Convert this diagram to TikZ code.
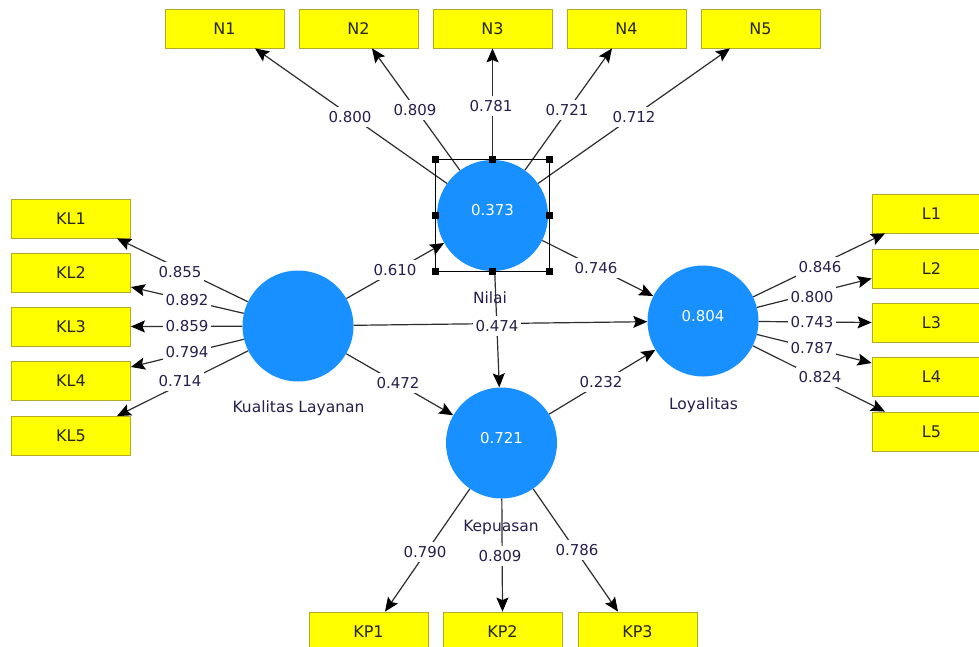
\documentclass[tikz,border=0pt]{standalone}
\usepackage{fontspec}
\newfontfamily\dv{DejaVu Sans}
\usetikzlibrary{arrows.meta}
\definecolor{boxy}{RGB}{255,255,0}
\definecolor{boxline}{RGB}{180,170,40}
\definecolor{lv}{RGB}{24,144,255}
\definecolor{lbltxt}{RGB}{40,30,75}
\definecolor{edge}{RGB}{45,45,45}
\begin{document}
\begin{tikzpicture}[x=1pt,y=-1pt,
  ind/.style={rectangle, fill=boxy, draw=boxline, line width=0.8pt, minimum width=119pt, minimum height=39pt, inner sep=0pt, font=\dv\fontsize{16}{18}\selectfont, text=black!85},
  lat/.style={circle, fill=lv, minimum size=111pt, inner sep=0pt, text=white, font=\dv\fontsize{15}{17}\selectfont, text height=10.5pt, text depth=10pt},
  lvname/.style={font=\dv\fontsize{15.5}{18}\selectfont, text=lbltxt, inner sep=0pt},
  coef/.style={fill=white, inner xsep=2.5pt, inner ysep=4pt, font=\dv\fontsize{15}{17}\selectfont, text=lbltxt},
  conn/.style={draw=edge, line width=1.2pt, -{Stealth[length=14pt,width=12pt,inset=2.5pt,color=black]}}
]
\clip (0,0) rectangle (979,647);
\fill[white] (0,0) rectangle (979,647);

% latent variables
\node[lat] (nilai) at (492.5,215.5) {0.373};
\node[lat] (kl) at (298,326) {};
\node[lat] (loy) at (703,321) {0.804};
\node[lat] (kep) at (501.5,443) {0.721};

% indicators
\node[ind] (n1) at (224.5,28.5) {N1};
\node[ind] (n2) at (358.5,28.5) {N2};
\node[ind] (n3) at (492.5,28.5) {N3};
\node[ind] (n4) at (626.5,28.5) {N4};
\node[ind] (n5) at (760.5,28.5) {N5};

\node[ind] (kl1) at (71,218.5) {KL1};
\node[ind] (kl2) at (71,272.5) {KL2};
\node[ind] (kl3) at (71,326.5) {KL3};
\node[ind] (kl4) at (71,381) {KL4};
\node[ind] (kl5) at (71,436) {KL5};

\node[ind] (l1) at (931.5,213.5) {L1};
\node[ind] (l2) at (931.5,268.5) {L2};
\node[ind] (l3) at (931.5,322.5) {L3};
\node[ind] (l4) at (931.5,377) {L4};
\node[ind] (l5) at (931.5,431.5) {L5};

\node[ind] (kp1) at (368.5,631.5) {KP1};
\node[ind] (kp2) at (502.5,631.5) {KP2};
\node[ind] (kp3) at (637.5,631.5) {KP3};

% structural paths
\draw[conn] (kl) -- (nilai);
\draw[conn] (nilai) -- (loy);
\draw[conn] (kl) -- (loy);
\draw[conn] (kl) -- (kep);
\draw[conn] (kep) -- (loy);
\draw[conn] (nilai) -- (kep);

% outer loadings
\draw[conn] (nilai) -- ([xshift=30.5pt]n1.south);
\draw[conn] (nilai) -- ([xshift=13.5pt]n2.south);
\draw[conn] (nilai) -- (n3.south);
\draw[conn] (nilai) -- ([xshift=-14.5pt]n4.south);
\draw[conn] (nilai) -- ([xshift=-30.5pt]n5.south);

\draw[conn] (kl) -- ([xshift=46pt]kl1.south);
\draw[conn] (kl) -- ([yshift=-14.5pt]kl2.east);
\draw[conn] (kl) -- (kl3.east);
\draw[conn] (kl) -- ([yshift=14pt]kl4.east);
\draw[conn] (kl) -- ([xshift=46pt]kl5.north);

\draw[conn] (loy) -- ([xshift=-46.5pt]l1.south);
\draw[conn] (loy) -- ([yshift=-10pt]l2.west);
\draw[conn] (loy) -- (l3.west);
\draw[conn] (loy) -- ([yshift=14pt]l4.west);
\draw[conn] (loy) -- ([xshift=-46.5pt]l5.north);

\draw[conn] (kep) -- ([xshift=16.5pt]kp1.north);
\draw[conn] (kep) -- (kp2.north);
\draw[conn] (kep) -- ([xshift=-19.5pt]kp3.north);

% coefficient labels
\node[coef] (c1) at (395,270) {0.610};
\node[coef] (c2) at (596,268) {0.746};
\node[coef] (c3) at (497,326) {0.474};
\node[coef] (c4) at (398,383) {0.472};
\node[coef] (c5) at (601,382) {0.232};

\node[coef] (cn1) at (350,117) {0.800};
\node[coef] (cn2) at (415,110) {0.809};
\node[coef] (cn3) at (491,106) {0.781};
\node[coef] (cn4) at (567,110) {0.721};
\node[coef] (cn5) at (634,117) {0.712};

\node[coef] (ck1) at (180,272) {0.855};
\node[coef] (ck2) at (187,300) {0.892};
\node[coef] (ck3) at (187,326) {0.859};
\node[coef] (ck4) at (187,352) {0.794};
\node[coef] (ck5) at (180,381) {0.714};

\node[coef] (cl1) at (820,267) {0.846};
\node[coef] (cl2) at (812,297) {0.800};
\node[coef] (cl3) at (812,322) {0.743};
\node[coef] (cl4) at (812,348) {0.787};
\node[coef] (cl5) at (820,377) {0.824};

\node[coef] (cp1) at (425,552) {0.790};
\node[coef] (cp2) at (500,556) {0.809};
\node[coef] (cp3) at (577,550) {0.786};

% latent names
\node[lvname] (nilaiN) at (490,298) {Nilai};
\node[lvname] (klN) at (298.5,408) {Kualitas Layanan};
\node[lvname] (loyN) at (703.5,405) {Loyalitas};
\node[lvname] (kepN) at (501,527) {Kepuasan};

% selection frame around Nilai
\draw[black, line width=1pt] (435,160) rectangle (549,271);
\foreach \px/\py in {435/160,492/160,549/160,435/215.5,549/215.5,435/271,492/271,549/271}
  \fill[black] (\px-3.5,\py-3.5) rectangle (\px+3.5,\py+3.5);
\end{tikzpicture}
\end{document}
